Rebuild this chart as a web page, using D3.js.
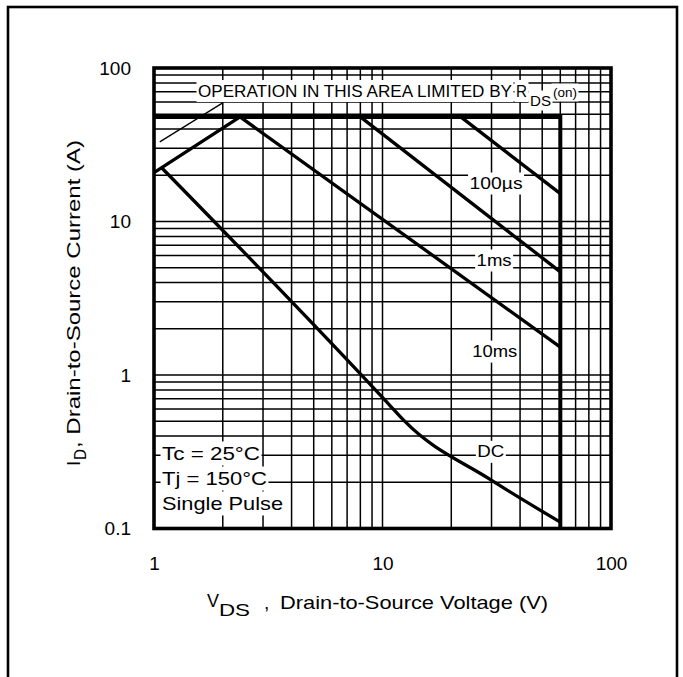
<!DOCTYPE html>
<html>
<head>
<meta charset="utf-8">
<script src="https://cdn.jsdelivr.net/npm/d3@7"></script>
<style>
  body { margin: 0; background: #fff; }
  svg { display: block; }
</style>
</head>
<body>
<svg id="chart" width="683" height="677"></svg>
<script>
// Maximum rated forward-biased safe operating area, log-log.
const xTicks = [1, 10, 100];
const xTickLabels = ["1", "10", "100"];
const yTicks = [0.1, 1, 10, 100];
const yTickLabels = ["0.1", "1", "10", "100"];

// Boundaries, [VDS (V), ID (A)]
const packageLimit = [[1, 48], [60, 48], [60, 0.1]];       // current ceiling and BVDSS wall
const rdsOnLimit   = [[1, 20.8], [2.38, 48]];
const pulse100us   = [[22, 48], [60, 15.2]];
const pulse1ms     = [[8, 48], [60, 4.7]];
const pulse10ms    = [[2.38, 48], [60, 1.52]];
const dcLimit      = [[1.08, 22.4], [10.5, 0.66], [11.5, 0.57], [12.5, 0.5], [29.7, 0.208], [60, 0.11]];
const rdsPointer   = [[1.06, 33], [1.99, 59]];

const W = 683, H = 677;
const FONT = '"Liberation Sans", Arial, Helvetica, sans-serif';
const svg = d3.select("#chart");

const x = d3.scaleLog().domain([1, 100]).range([154, 611]);
const y = d3.scaleLog().domain([0.1, 100]).range([528.5, 68]);
const [x0, x1] = x.range();
const [y0, y1] = y.range();

svg.append("rect").attr("width", W).attr("height", H).attr("fill", "#fff");

// page frame
svg.append("rect")
  .attr("x", 8).attr("y", 7).attr("width", 669).attr("height", 720)
  .attr("fill", "none").attr("stroke", "#000").attr("stroke-width", 2.6);

// log grid
const grid = svg.append("g").attr("stroke", "#000").attr("stroke-width", 1.5);
grid.selectAll("line.v").data(x.ticks()).join("line").attr("class", "v")
  .attr("x1", d => x(d)).attr("x2", d => x(d)).attr("y1", y1).attr("y2", y0);
grid.selectAll("line.h").data(y.ticks()).join("line").attr("class", "h")
  .attr("y1", d => y(d)).attr("y2", d => y(d)).attr("x1", x0).attr("x2", x1);

// tick labels
const gx = svg.append("g").attr("transform", `translate(0,${y0})`)
  .call(d3.axisBottom(x).tickValues(xTicks).tickFormat((d, i) => xTickLabels[i]).tickSize(0).tickPadding(28));
const gy = svg.append("g").attr("transform", `translate(${x0},0)`)
  .call(d3.axisLeft(y).tickValues(yTicks).tickFormat((d, i) => yTickLabels[i]).tickSize(0).tickPadding(23));
[gx, gy].forEach(g => {
  g.select(".domain").remove();
  g.selectAll("text").attr("font-size", 19).attr("font-family", FONT).attr("fill", "#000");
});

// boundary curves
const line = d3.line().x(d => x(d[0])).y(d => y(d[1]));
const curves = svg.append("g").attr("fill", "none").attr("stroke", "#000")
  .attr("stroke-linejoin", "miter");
curves.append("path").datum(packageLimit).attr("d", line).attr("stroke-width", 4);
[rdsOnLimit, pulse100us, pulse1ms, pulse10ms].forEach(s =>
  curves.append("path").datum(s).attr("d", line).attr("stroke-width", 3.3));
curves.append("path").datum(dcLimit).attr("d", d3.line().x(d => x(d[0])).y(d => y(d[1])).curve(d3.curveMonotoneX))
  .attr("stroke-width", 3.3);
curves.append("path").datum(rdsPointer).attr("d", line).attr("stroke-width", 1.3);

// labels sit on white boxes that clear the grid behind them
const boxLayer = svg.append("g");
const textLayer = svg.append("g").attr("font-family", FONT).attr("fill", "#000");

function label(str, px, py, size, width, opts = {}) {
  const t = textLayer.append("text")
    .attr("x", px).attr("y", py).attr("font-size", size)
    .attr("text-anchor", opts.anchor || "start")
    .text(str);
  if (opts.dy) t.attr("dy", opts.dy);
  if (width) t.attr("textLength", width).attr("lengthAdjust", "spacingAndGlyphs");
  if (opts.box !== false) {
    const b = t.node().getBBox();
    const pad = opts.pad ?? 1.5;
    boxLayer.append("rect")
      .attr("x", b.x - pad).attr("y", b.y - pad)
      .attr("width", b.width + 2 * pad).attr("height", b.height + 2 * pad)
      .attr("fill", "#fff");
  }
  return t;
}

// region note: OPERATION IN THIS AREA LIMITED BY R_DS(on)
label("OPERATION IN THIS AREA LIMITED BY", x(1.558), y(65.2), 17, 314);
label("R", 516, y(65.2), 17, 11);
label("DS", 530, y(65.2) + 9.5, 15, 21);
label("(on)", 553, y(65.2) + 0.5, 13, 24);

// pulse-width labels
label("100\u00B5s", x(31.4), y(17.8), 17, 53, { anchor: "middle", dy: "0.35em" });
label("1ms", x(30.8), y(5.61), 17, 35, { anchor: "middle", dy: "0.35em" });
label("10ms", x(31), y(1.43), 17, 45, { anchor: "middle", dy: "0.35em" });
label("DC", x(29.8), y(0.318), 17, 27, { anchor: "middle", dy: "0.35em" });

// test conditions
label("Tc = 25\u00B0C", x(1.084), y(0.2795), 18.5, 98);
label("Tj = 150\u00B0C", x(1.084), y(0.192), 18.5, 105);
label("Single Pulse", x(1.084), y(0.132), 18.5, 121);

// axis titles
const titles = svg.append("g").attr("font-family", FONT).attr("fill", "#000");
titles.append("text").attr("x", 207).attr("y", 607).attr("font-size", 19)
  .attr("textLength", 12).attr("lengthAdjust", "spacingAndGlyphs").text("V");
titles.append("text").attr("x", 219).attr("y", 616).attr("font-size", 17)
  .attr("textLength", 31).attr("lengthAdjust", "spacingAndGlyphs").text("DS");
titles.append("text").attr("x", 264).attr("y", 609).attr("font-size", 19).text(",");
titles.append("text").attr("x", 280).attr("y", 609).attr("font-size", 19)
  .attr("textLength", 268).attr("lengthAdjust", "spacingAndGlyphs").text("Drain-to-Source Voltage (V)");

titles.append("text").attr("transform", "translate(80,466) rotate(-90)").attr("font-size", 19).text("I");
titles.append("text").attr("transform", "translate(86,460) rotate(-90)").attr("font-size", 16)
  .attr("textLength", 11).attr("lengthAdjust", "spacingAndGlyphs").text("D");
titles.append("text").attr("transform", "translate(80,448) rotate(-90)").attr("font-size", 19)
  .attr("textLength", 308).attr("lengthAdjust", "spacingAndGlyphs").text(", Drain-to-Source Current (A)");

// plot border
svg.append("rect")
  .attr("x", x0).attr("y", y1).attr("width", x1 - x0).attr("height", y0 - y1)
  .attr("fill", "none").attr("stroke", "#000").attr("stroke-width", 3.6);
</script>
</body>
</html>
